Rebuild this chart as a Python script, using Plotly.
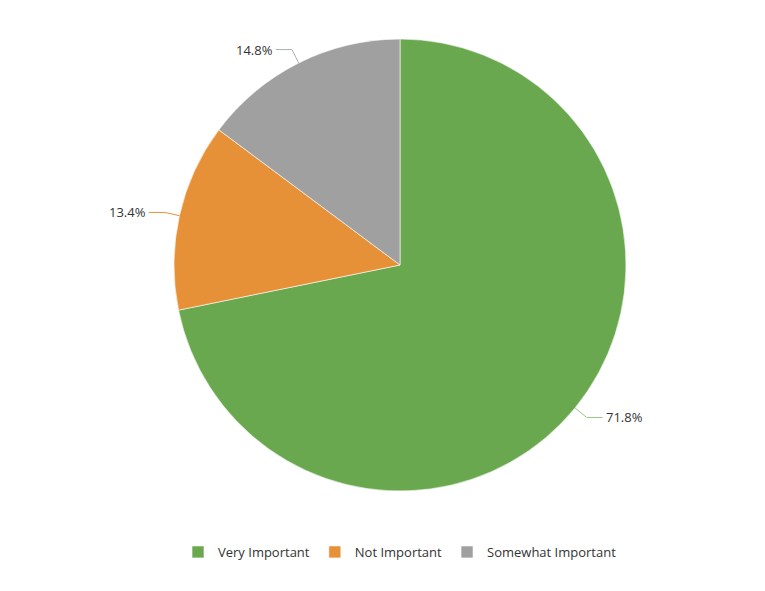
import math

import plotly.graph_objects as go

# data
labels = ["Very Important", "Not Important", "Somewhat Important"]
values = [71.8, 13.4, 14.8]
colors = ["#6aa84f", "#e69138", "#a0a0a0"]
line_colors = ["#9cc48a", "#e69138", "#a8b0a8"]

W, H = 765, 591
PAD = 8  # page body margin around the plot div
CX, CY, R = 400 - PAD, 265 - PAD, 226  # pie centre / radius in figure pixels

def to_paper(px, py):
    return px / W, 1 - py / H

fig = go.Figure(
    go.Pie(
        labels=labels,
        values=values,
        sort=False,
        direction="clockwise",
        rotation=0,
        textinfo="none",
        hoverinfo="label+percent",
        marker=dict(colors=colors, line=dict(color="white", width=0.6)),
        domain=dict(
            x=[(CX - R) / W, (CX + R) / W],
            y=[1 - (CY + R) / H, 1 - (CY - R) / H],
        ),
    )
)

# leader lines + labels, placed from each slice's mid angle
total = sum(values)
cum = 0.0
for val, lc in zip(values, line_colors):
    mid = (cum + val / 2) / total * 2 * math.pi
    cum += val
    sx, cy_ = math.sin(mid), math.cos(mid)
    x0, y0 = CX + R * sx, CY - R * cy_
    x1, y1 = CX + (R + 15) * sx, CY - (R + 15) * cy_
    side = 1 if sx >= 0 else -1
    x2 = x1 + side * 16
    p0, p1, p2 = to_paper(x0, y0), to_paper(x1, y1), to_paper(x2, y1)
    fig.add_shape(
        type="path",
        xref="paper", yref="paper",
        path=f"M {p0[0]} {p0[1]} L {p1[0]} {p1[1]} L {p2[0]} {p2[1]}",
        line=dict(color=lc, width=1),
    )
    fig.add_annotation(
        x=(x2 + side * 1) / W, y=1 - y1 / H,
        xref="paper", yref="paper",
        text=f"{val / total * 100:.1f}%",
        showarrow=False,
        xanchor="left" if side > 0 else "right",
        yanchor="middle",
        font=dict(size=13, color="#333333"),
    )

fig.update_layout(
    width=W,
    height=H,
    margin=dict(l=0, r=0, t=0, b=0),
    paper_bgcolor="white",
    font=dict(family="Open Sans, Noto Sans, sans-serif", size=13, color="#333333"),
    showlegend=True,
    legend=dict(
        orientation="h",
        x=CX / W, xanchor="center",
        y=1 - (552 - PAD) / H, yanchor="middle",
        font=dict(size=13, color="#333333"),
        itemwidth=30,
    ),
)

fig.write_html("out.html")
